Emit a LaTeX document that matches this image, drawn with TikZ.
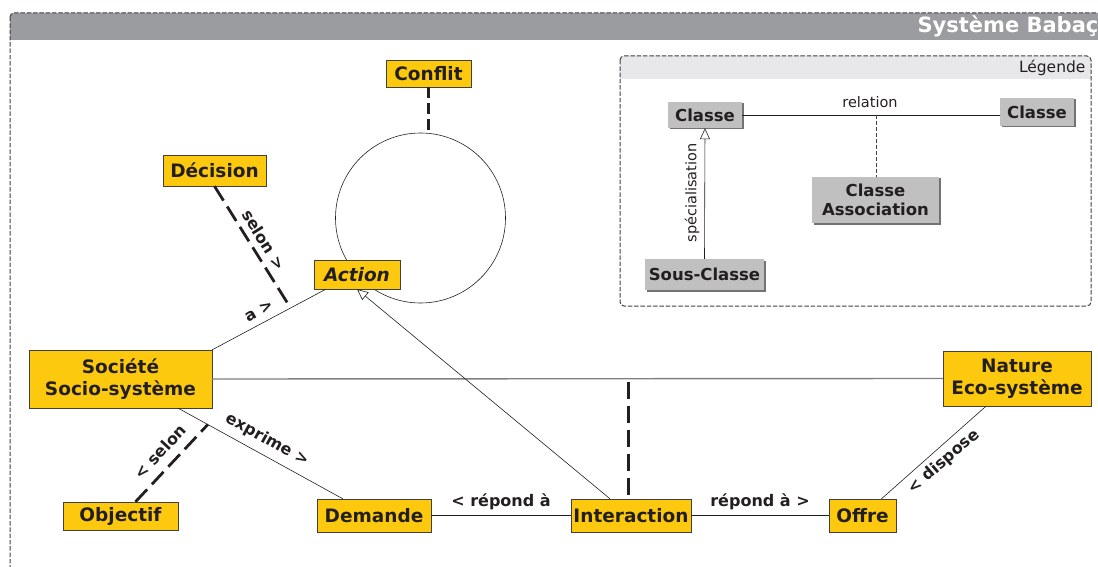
\documentclass[tikz,border=0pt]{standalone}
\usepackage{fontspec}
\setmainfont{DejaVu Sans}
\definecolor{babayellow}{RGB}{253, 201, 15}
\definecolor{titlegray}{RGB}{155, 156, 160}
\definecolor{legendgray}{RGB}{192, 192, 193}
\definecolor{legendbar}{RGB}{232, 232, 234}
\definecolor{inkdark}{RGB}{35, 31, 32}
\usetikzlibrary{
    arrows.meta,
    positioning,
    calc,
    shadows
}

\begin{document}
\begin{tikzpicture}[x=1pt, y=-1pt,
    classe/.style={draw=black!75, fill=babayellow, text=inkdark, inner sep=0pt, align=center,
        font=\bfseries\fontsize{18.5}{22}\selectfont},
    legclass/.style={fill=legendgray, text=inkdark, inner sep=0pt, align=center,
        font=\bfseries\fontsize{16.5}{19}\selectfont,
        drop shadow={shadow xshift=1.5pt, shadow yshift=-1.5pt, fill=black!55, opacity=1}},
    frameline/.style={draw=black!75, line width=1pt, dash pattern=on 4.5pt off 1.8pt, rounded corners=4pt},
    assoc/.style={draw=inkdark, line width=0.6pt},
    assocdash/.style={draw=inkdark, line width=2.8pt, dash pattern=on 17pt off 7pt},
    rolelabel/.style={font=\bfseries\fontsize{16}{19}\selectfont, text=inkdark, inner sep=0pt},
    inherit/.style={draw=inkdark, line width=0.6pt, -{Triangle[open, length=11pt, width=10pt]}}
]
    \useasboundingbox (0,0) rectangle (1098,567);
    \clip (0,0) rectangle (1098,567);

    % Frame of the system
    \fill[titlegray, rounded corners=4pt] (10,13) rectangle (1130,40);
    \fill[titlegray] (10,30) rectangle (1130,40);
    \draw[frameline] (10,13) rectangle (1130,600);
    \node[anchor=west, text=white, font=\bfseries\fontsize{21}{24}\selectfont] (title) at (914,26.5) {Système Babaçu};

    % Legend
    \fill[legendbar, rounded corners=4pt] (620,56) rectangle (1091,79);
    \fill[legendbar] (620,70) rectangle (1091,79);
    \draw[frameline] (620,56) rectangle (1091,306);
    \node[anchor=east, text=inkdark, font=\fontsize{15.5}{18}\selectfont] (legtitle) at (1089,67.5) {Légende};
    \node[legclass, minimum width=74pt, minimum height=26pt] (lcA) at (705,115) {Classe};
    \node[legclass, minimum width=74pt, minimum height=28pt] (lcB) at (1037,112) {Classe};
    \node[legclass, minimum width=127pt, minimum height=46pt] (lassoc) at (875.5,200) {Classe\\Association};
    \node[legclass, minimum width=119pt, minimum height=31pt] (lsub) at (704.5,274.5) {Sous-Classe};
    \draw[assoc] (lcA.east) -- coordinate[pos=0.52] (relMid) (lcA.east -| lcB.west);
    \draw[black!75, line width=0.8pt, dash pattern=on 4pt off 2pt] (relMid) -- (relMid |- lassoc.north);
    \node[text=inkdark, font=\fontsize{14.5}{17}\selectfont] (lblrel) at (870,102) {relation};
    \draw[inherit] (lsub.north) -- (lcA.south);
    \node[rotate=90, text=inkdark, font=\fontsize{14.5}{17}\selectfont] (lblspec) at (692,193) {spécialisation};

    % Classes
    \node[circle, assoc, minimum size=170pt] (loop) at (420.5,218) {};
    \node[classe, minimum width=85pt, minimum height=27pt] (con) at (428.5,73.5) {Conflit};
    \node[classe, minimum width=103pt, minimum height=31pt] (dec) at (214.5,170.5) {Décision};
    \node[classe, minimum width=86pt, minimum height=29pt, font=\bfseries\itshape\fontsize{18.5}{22}\selectfont] (act) at (357,274.5) {Action};
    \node[classe, minimum width=183pt, minimum height=58pt] (soc) at (120.5,379) {Société\\Socio-système};
    \node[classe, minimum width=148pt, minimum height=55pt] (nat) at (1017,378.5) {Nature\\Eco-système};
    \node[classe, minimum width=115pt, minimum height=28pt] (obj) at (120.5,516) {Objectif};
    \node[classe, minimum width=114pt, minimum height=33pt] (dem) at (374,515.5) {Demande};
    \node[classe, minimum width=120pt, minimum height=33pt] (int) at (631,515.5) {Interaction};
    \node[classe, minimum width=67pt, minimum height=33pt] (off) at (862.5,515.5) {Offre};

    % Associations
    \draw[assocdash, line width=2.2pt, dash pattern=on 11pt off 5pt] (con.south) -- (con.south |- loop.north);
    \draw[assoc] (soc.north east) -- coordinate[pos=0.69] (saMid) ([xshift=12pt]act.south west);
    \draw[assocdash] (dec.south) -- (saMid);
    \node[rolelabel, rotate=-58] (lblselonA) at (264,240) {selon >};
    \node[rolelabel, rotate=29] (lbla) at (259,311) {a >};

    \draw[assoc] ([xshift=-34pt]soc.south east) -- coordinate[pos=0.18] (sdMid) ([xshift=26pt]dem.north west);
    \draw[assocdash] ([xshift=15pt]obj.north) -- (sdMid);
    \node[rolelabel, rotate=-29] (lblexp) at (267,440) {exprime >};
    \node[rolelabel, rotate=47] (lblselonB) at (160,452) {< selon};

    \draw[assoc, draw=black!50, line width=1.4pt] (soc.east) -- coordinate[pos=0.57] (snMid) (nat.west);
    \draw[assocdash] ([yshift=-3pt]snMid) -- (snMid |- int.north);

    \draw[inherit] ([xshift=-21pt]int.north) -- (act.south);
    \draw[assoc] (dem.east) -- (int.west);
    \draw[assoc] (int.east) -- (off.west);
    \node[rolelabel] (lblrepA) at (501,502) {< répond à};
    \node[rolelabel] (lblrepB) at (760,502) {répond à >};

    \draw[assoc] ([xshift=-31pt]nat.south) -- ([xshift=19pt]off.north);
    \node[rolelabel, rotate=41] (lbldisp) at (944,462) {< dispose};
\end{tikzpicture}
\end{document}
